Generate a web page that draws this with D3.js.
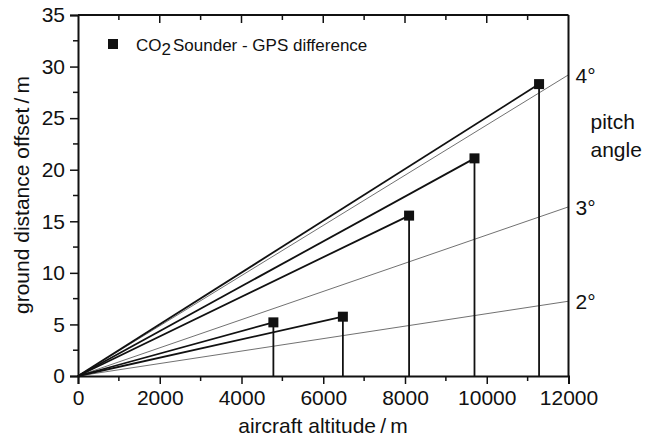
<!DOCTYPE html>
<meta charset="utf-8">
<style>
  body { margin: 0; background: #fff; }
  text { font-family: "Liberation Sans", Arial, sans-serif; fill: #111; }
</style>
<svg width="659" height="442"></svg>
<script src="https://d3js.org/d3.v7.min.js"></script>
<script>
// measured points: CO2 Sounder - GPS difference
var altitude = [4780, 6480, 8100, 9700, 11280]
var offset   = [5.2, 5.75, 15.55, 21.1, 28.3]

// pitch angle reference lines, value at the right edge (12000 m)
var pitchLabels = ["2°", "3°", "4°"]
var pitchEnd    = [7.25, 16.4, 29.2]

var xTicks = [0, 2000, 4000, 6000, 8000, 10000, 12000]
var yTicks = [0, 5, 10, 15, 20, 25, 30, 35]

var svg = d3.select('svg')
var margin = { left: 78, right: 90.5, top: 15, bottom: 66 }
var W = 659, H = 442
var fs = 21

var x = d3.scaleLinear().domain([0, 12000]).range([margin.left, W - margin.right])
var y = d3.scaleLinear().domain([0, 35]).range([H - margin.bottom, margin.top])

var ink = '#111'

// thin pitch angle lines
svg.append('g').selectAll('line')
  .data(pitchEnd)
  .enter().append('line')
  .attr('x1', x(0)).attr('y1', y(0))
  .attr('x2', x(12000)).attr('y2', function (d) { return y(d) })
  .attr('stroke', '#333').attr('stroke-width', 0.7)

svg.append('g').selectAll('text')
  .data(pitchLabels)
  .enter().append('text')
  .attr('x', x(12000) + 7)
  .attr('y', function (d, i) { return y(pitchEnd[i]) + 8 })
  .attr('font-size', fs)
  .text(function (d) { return d })

svg.append('text').attr('x', x(12000) + 22).attr('y', 129).attr('font-size', fs).text('pitch')
svg.append('text').attr('x', x(12000) + 22).attr('y', 157).attr('font-size', fs).text('angle')

// lines from origin to each point and drop lines
var pts = altitude.map(function (a, i) { return { a: a, o: offset[i] } })

svg.append('g').selectAll('line')
  .data(pts)
  .enter().append('line')
  .attr('x1', x(0)).attr('y1', y(0))
  .attr('x2', function (d) { return x(d.a) })
  .attr('y2', function (d) { return y(d.o) })
  .attr('stroke', ink).attr('stroke-width', 1.8)

svg.append('g').selectAll('line')
  .data(pts)
  .enter().append('line')
  .attr('x1', function (d) { return x(d.a) })
  .attr('x2', function (d) { return x(d.a) })
  .attr('y1', function (d) { return y(d.o) })
  .attr('y2', y(0))
  .attr('stroke', ink).attr('stroke-width', 1.8)

svg.append('g').selectAll('rect')
  .data(pts)
  .enter().append('rect')
  .attr('x', function (d) { return x(d.a) - 5 })
  .attr('y', function (d) { return y(d.o) - 5 })
  .attr('width', 10).attr('height', 10)
  .attr('fill', ink)

// axes
var xAxis = d3.axisBottom(x).tickValues(xTicks).tickFormat(d3.format('d')).tickSize(8).tickPadding(6)
var gx = svg.append('g').attr('transform', 'translate(0,' + y(0) + ')').call(xAxis)
gx.append('g').selectAll('line')
  .data(d3.range(1000, 12000, 2000))
  .enter().append('line')
  .attr('x1', function (d) { return x(d) }).attr('x2', function (d) { return x(d) })
  .attr('y1', 0).attr('y2', 5).attr('stroke', ink).attr('stroke-width', 1.5)

var yAxis = d3.axisLeft(y).tickValues(yTicks).tickSize(8).tickPadding(5)
var gy = svg.append('g').attr('transform', 'translate(' + x(0) + ',0)').call(yAxis)
gy.append('g').selectAll('line')
  .data(d3.range(2.5, 35, 5))
  .enter().append('line')
  .attr('y1', function (d) { return y(d) }).attr('y2', function (d) { return y(d) })
  .attr('x1', 0).attr('x2', -5).attr('stroke', ink).attr('stroke-width', 1.5)

// top mirror ticks (inward)
svg.append('g').selectAll('line')
  .data(d3.range(1000, 12000, 1000))
  .enter().append('line')
  .attr('x1', function (d) { return x(d) }).attr('x2', function (d) { return x(d) })
  .attr('y1', y(35)).attr('y2', function (d) { return y(35) + (d % 2000 === 0 ? 8 : 5) })
  .attr('stroke', ink).attr('stroke-width', 1.5)

;[gx, gy].forEach(function (g) {
  g.select('.domain').attr('stroke', ink).attr('stroke-width', 2)
  g.selectAll('.tick line').attr('stroke', ink).attr('stroke-width', 1.5)
  g.selectAll('.tick text').attr('font-size', fs).attr('font-family', '"Liberation Sans", Arial, sans-serif').attr('fill', ink)
})

// frame top and right
svg.append('line').attr('x1', x(0)).attr('x2', x(12000)).attr('y1', y(35)).attr('y2', y(35))
  .attr('stroke', ink).attr('stroke-width', 2)
svg.append('line').attr('x1', x(12000)).attr('x2', x(12000)).attr('y1', y(35)).attr('y2', y(0))
  .attr('stroke', ink).attr('stroke-width', 2)

// axis titles
svg.append('text').attr('x', 323).attr('y', 433).attr('text-anchor', 'middle')
  .attr('font-size', fs).text('aircraft altitude\u2009/\u2009m')
svg.append('text').attr('transform', 'translate(29,195) rotate(-90)')
  .attr('text-anchor', 'middle').attr('font-size', fs).text('ground distance offset\u2009/\u2009m')

// legend
svg.append('rect').attr('x', 108).attr('y', 39).attr('width', 10).attr('height', 10).attr('fill', ink)
var leg = svg.append('text').attr('x', 136).attr('y', 51).attr('font-size', 17)
leg.append('tspan').text('CO')
leg.append('tspan').attr('dy', 4).text('2')
leg.append('tspan').attr('dy', -4).attr('dx', 2).text('Sounder - GPS difference')
</script>
